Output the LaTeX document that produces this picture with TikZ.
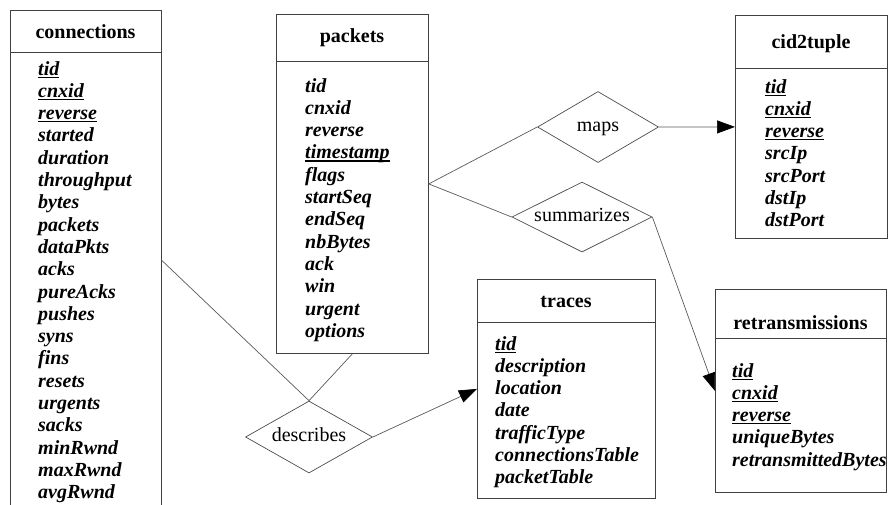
\documentclass[tikz,border=0pt]{standalone}
\usepackage{fontspec}
\setmainfont{Liberation Serif}
\usetikzlibrary{shapes.geometric,arrows.meta}
\newcommand{\keyu}[1]{\setbox0\hbox{#1}\rlap{\rule[-2.6pt]{\wd0}{1.1pt}}\box0}
\begin{document}
\begin{tikzpicture}[x=1pt,y=-1pt,
  box/.style={draw=black!75, line width=0.8pt, anchor=north west, inner sep=0pt},
  hdr/.style={font=\fontsize{20}{22}\selectfont\bfseries, anchor=base, inner sep=0pt},
  attr/.style={font=\fontsize{20}{22}\selectfont\bfseries\itshape, anchor=base west, inner sep=0pt},
  rel/.style={diamond, draw=black!70, line width=0.7pt, aspect=2, inner sep=0pt,
    text height=9pt, text depth=0pt, font=\fontsize{20}{22}\selectfont},
  link/.style={draw=black!65, line width=0.7pt},
  arr/.style={link, -{Triangle[black,length=18pt,width=13pt]}}
]
\useasboundingbox (0,0) rectangle (890,504);
\clip (0,0) rectangle (890,504);

% connections
\node[box, minimum width=151pt, minimum height=500pt] (connections) at (10,10) {};
\draw[draw=black!75, line width=0.8pt] (10,52) -- (161,52);
\node[hdr] (connections-h) at (85.5,38) {connections};
\foreach \t [count=\i] in {\keyu{tid},\keyu{cnxid},\keyu{reverse},started,duration,throughput,bytes,packets,dataPkts,acks,pureAcks,pushes,syns,fins,resets,urgents,sacks,minRwnd,maxRwnd,avgRwnd}
  \node[attr] (connections-\i) at ({38},{75+22.3*(\i-1)}) {\t};

% packets
\node[box, minimum width=152pt, minimum height=339pt] (packets) at (276,14) {};
\draw[draw=black!75, line width=0.8pt] (276,61) -- (428,61);
\node[hdr] (packets-h) at (352,42) {packets};
\foreach \t [count=\i] in {tid,cnxid,reverse,\keyu{timestamp},flags,startSeq,endSeq,nbBytes,ack,win,urgent,options}
  \node[attr] (packets-\i) at ({305},{92+22.3*(\i-1)}) {\t};

% cid2tuple
\node[box, minimum width=152pt, minimum height=223pt] (cid) at (735,15) {};
\draw[draw=black!75, line width=0.8pt] (735,68) -- (887,68);
\node[hdr] (cid-h) at (811,48) {cid2tuple};
\foreach \t [count=\i] in {\keyu{tid},\keyu{cnxid},\keyu{reverse},srcIp,srcPort,dstIp,dstPort}
  \node[attr] (cid-\i) at ({765},{93+22.3*(\i-1)}) {\t};

% traces
\node[box, minimum width=178pt, minimum height=219pt] (traces) at (477,279) {};
\draw[draw=black!75, line width=0.8pt] (477,322) -- (655,322);
\node[hdr] (traces-h) at (566,307) {traces};
\foreach \t [count=\i] in {\keyu{tid},description,location,date,trafficType,connectionsTable,packetTable}
  \node[attr] (traces-\i) at ({495},{350+22.3*(\i-1)}) {\t};

% retransmissions
\node[box, minimum width=171pt, minimum height=203pt] (retrans) at (715,289) {};
\draw[draw=black!75, line width=0.8pt] (715,338) -- (886,338);
\node[hdr] (retrans-h) at (800.5,329) {retransmissions};
\foreach \t [count=\i] in {\keyu{tid},\keyu{cnxid},\keyu{reverse},uniqueBytes,retransmittedBytes}
  \node[attr] (retrans-\i) at ({732},{377+22.3*(\i-1)}) {\t};

% relationships
\node[rel, minimum width=121pt, minimum height=71pt] (maps) at (598,127) {maps};
\node[rel, minimum width=140pt, minimum height=70pt] (summarizes) at (582,217) {summarizes};
\node[rel, minimum width=127pt, minimum height=72pt] (describes) at (309,437) {describes};

% connectors
\draw[link] (packets.east) -- (maps.west);
\draw[link] (packets.east) -- (summarizes.west);
\draw[arr] (maps.east) -- (cid.west);
\draw[arr] (summarizes.east) -- (retrans.west);
\draw[link] (connections.east) -- (describes.north);
\draw[link] (packets.south) -- (describes.north);
\draw[arr] (describes.east) -- (traces.west);
\end{tikzpicture}
\end{document}
